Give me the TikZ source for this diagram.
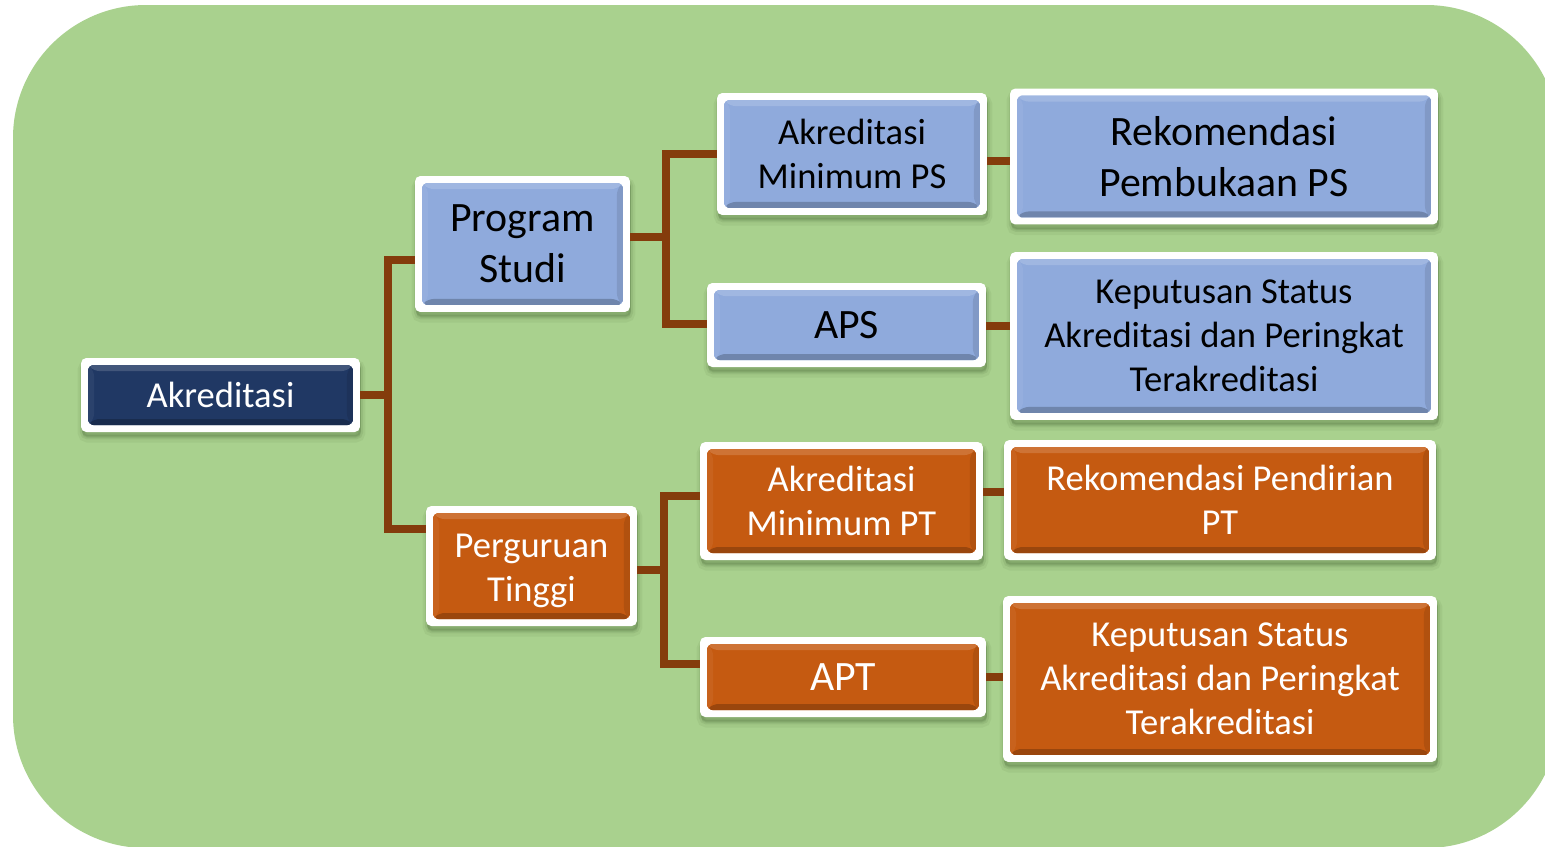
\documentclass[tikz,border=0pt]{standalone}
\usepackage{fontspec}
\setmainfont{Carlito}

\definecolor{panelgreen}{HTML}{A9D18E}
\definecolor{psblue}{HTML}{8FAADC}
\definecolor{rootnavy}{HTML}{203864}
\definecolor{ptorange}{HTML}{C55A11}
\definecolor{linkbrown}{HTML}{843C0C}
\definecolor{shadowtone}{HTML}{3C5A2A}

% inner coloured face with a bevelled rim, drawn inside the white card
\newcommand\bevelface[1]{%
  \coordinate (bsw) at ([shift={(0.14cm,0.14cm)}]path picture bounding box.south west);
  \coordinate (bne) at ([shift={(-0.14cm,-0.14cm)}]path picture bounding box.north east);
  \coordinate (bnw) at (bsw|-bne);
  \coordinate (bse) at (bne|-bsw);
  \coordinate (isw) at ([shift={(0.12cm,0.12cm)}]bsw);
  \coordinate (ine) at ([shift={(-0.12cm,-0.12cm)}]bne);
  \coordinate (inw) at (isw|-ine);
  \coordinate (ise) at (ine|-isw);
  \fill[#1] (bsw) rectangle (bne);
  \fill[#1!85!white] (bnw) -- (bne) -- (ine) -- (inw) -- cycle;
  \fill[#1!95!white] (bsw) -- (bnw) -- (inw) -- (isw) -- cycle;
  \fill[#1!90!black] (bse) -- (bne) -- (ine) -- (ise) -- cycle;
  \fill[#1!78!black] (bsw) -- (bse) -- (ise) -- (isw) -- cycle;
}

\tikzset{
  softshadow/.style={
    preaction={fill=shadowtone, draw=shadowtone, line width=5pt, opacity=0.07,
      transform canvas={xshift=0.6pt, yshift=-3.5pt}},
    preaction={fill=shadowtone, draw=shadowtone, line width=2.5pt, opacity=0.10,
      transform canvas={xshift=0.6pt, yshift=-3pt}},
    preaction={fill=shadowtone, opacity=0.15,
      transform canvas={xshift=0.5pt, yshift=-2.5pt}}},
  card/.style={rectangle, rounded corners=3pt, fill=white, inner sep=0pt,
    align=center, softshadow,
    path picture={\bevelface{#1}}},
  bluecard/.style={card=psblue, text=black},
  navycard/.style={card=rootnavy, text=white},
  orangecard/.style={card=ptorange, text=white},
  conn/.style={draw=linkbrown, line width=4.3pt, line join=miter},
  txt/.style={font=\fontsize{20.8}{25}\selectfont},
  bigtxt/.style={font=\fontsize{23.8}{29}\selectfont},
}

\begin{document}
\begin{tikzpicture}[x=0.02cm, y=-0.02cm]
  \useasboundingbox (0,0) rectangle (1545,846);
  \fill[white] (0,0) rectangle (1545,846);
  \begin{scope}
    \clip (0,0) rectangle (1545,846);
    \fill[panelgreen, rounded corners=2.66cm] (13,5) rectangle (1559,848);
  \end{scope}

  % level 0
  \node[navycard, txt, minimum width=5.58cm, minimum height=1.48cm]
    (root) at (220.5,395) {Akreditasi};

  % level 1
  \node[bluecard, bigtxt, minimum width=4.30cm, minimum height=2.72cm]
    (ps) at (522.5,244) {Program\\Studi};
  \node[orangecard, txt, minimum width=4.22cm, minimum height=2.40cm]
    (pt) at (531.5,566)
    {\raisebox{-7.6pt}[0pt][0pt]{\begin{tabular}{@{}c@{}}Perguruan\\Tinggi\end{tabular}}};

  % level 2
  \node[bluecard, txt, minimum width=5.40cm, minimum height=2.44cm]
    (amps) at (852,154) {Akreditasi\\Minimum PS};
  \node[bluecard, bigtxt, minimum width=5.58cm, minimum height=1.68cm]
    (aps) at (846.5,325) {APS};
  \node[orangecard, txt, minimum width=5.66cm, minimum height=2.36cm]
    (ampt) at (841.5,501) {Akreditasi\\Minimum PT};
  \node[orangecard, bigtxt, minimum width=5.72cm, minimum height=1.60cm]
    (apt) at (843,677) {APT};

  % level 3
  \node[bluecard, bigtxt, minimum width=8.56cm, minimum height=2.72cm]
    (rek1) at (1224,156.5) {Rekomendasi\\Pembukaan PS};
  \node[bluecard, txt, minimum width=8.56cm, minimum height=3.36cm]
    (kep1) at (1224,336) {Keputusan Status\\Akreditasi dan Peringkat\\Terakreditasi};
  \node[orangecard, txt, minimum width=8.64cm, minimum height=2.40cm]
    (rek2) at (1220,500) {Rekomendasi Pendirian\\PT};
  \node[orangecard, txt, minimum width=8.68cm, minimum height=3.32cm]
    (kep2) at (1220,679) {Keputusan Status\\Akreditasi dan Peringkat\\Terakreditasi};

  % bus from the root
  \coordinate (j0) at (390,395);
  \coordinate (b0t) at (388,260);
  \coordinate (b0b) at (388,529);
  \draw[conn] (root.east) -- (j0);
  \draw[conn] (ps.west |- b0t) -- (b0t) -- (b0b) -- (pt.west |- b0b);

  % bus from Program Studi
  \coordinate (j1) at (666,237);
  \coordinate (b1t) at (666,154);
  \coordinate (b1b) at (666,324);
  \draw[conn] (ps.east |- j1) -- (j1);
  \draw[conn] (amps.west |- b1t) -- (b1t) -- (b1b) -- (aps.west |- b1b);

  % bus from Perguruan Tinggi
  \coordinate (j2) at (664,570);
  \coordinate (b2t) at (664,496);
  \coordinate (b2b) at (664,664);
  \draw[conn] (pt.east |- j2) -- (j2);
  \draw[conn] (ampt.west |- b2t) -- (b2t) -- (b2b) -- (apt.west |- b2b);

  % outcomes
  \coordinate (r1) at (1000,161);
  \coordinate (r2) at (1000,326);
  \coordinate (r3) at (995,492);
  \coordinate (r4) at (995,677);
  \draw[conn] (amps.east |- r1) -- (rek1.west |- r1);
  \draw[conn] (aps.east |- r2) -- (kep1.west |- r2);
  \draw[conn] (ampt.east |- r3) -- (rek2.west |- r3);
  \draw[conn] (apt.east |- r4) -- (kep2.west |- r4);
\end{tikzpicture}
\end{document}
